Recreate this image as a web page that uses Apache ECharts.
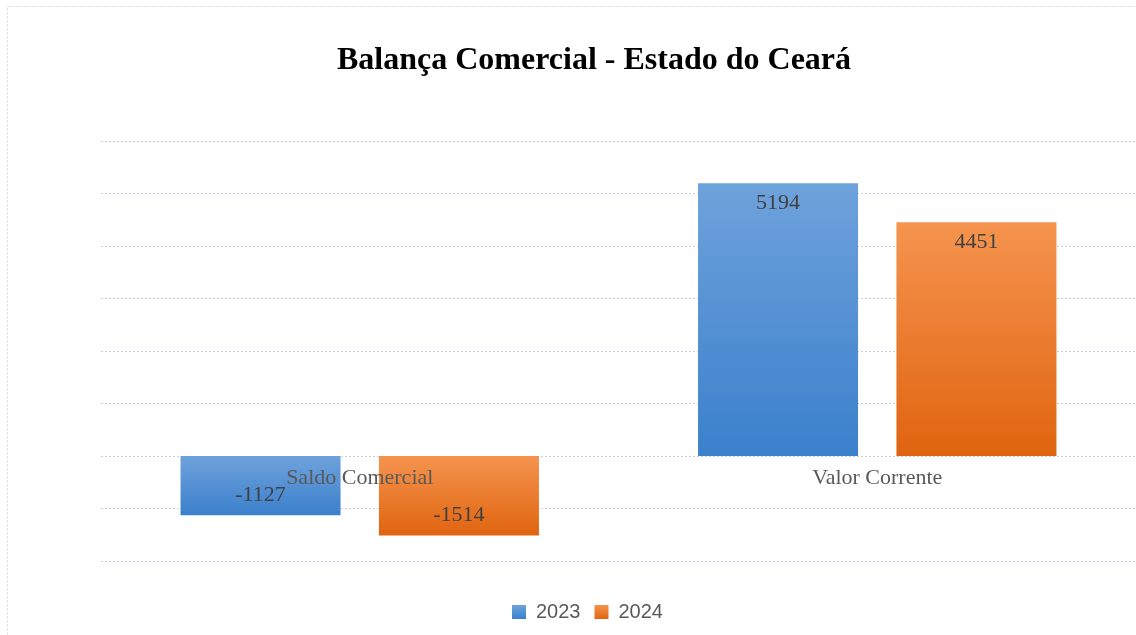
<!DOCTYPE html>
<html>
<head>
<meta charset="utf-8">
<script src="https://cdn.jsdelivr.net/npm/echarts@6/dist/echarts.min.js"></script>
<style>
  html, body { margin: 0; padding: 0; background: #fff; }
  #chart { width: 1136px; height: 635px; }
</style>
</head>
<body>
<div id="chart"></div>
<script>
var categories = ['Saldo Comercial', 'Valor Corrente']
var values2023 = [-1127, 5194]
var values2024 = [-1514, 4451]
var seriesNames = ['2023', '2024']

function grad(top, bottom) {
  return new echarts.graphic.LinearGradient(0, 0, 0, 1, [
    { offset: 0, color: top },
    { offset: 1, color: bottom }
  ])
}

// negative bars put the label at the bottom end
function toData(vals) {
  return vals.map(function (v) {
    return {
      value: v,
      label: { position: v < 0 ? 'insideBottom' : 'insideTop' }
    }
  })
}

var labelStyle = {
  show: true,
  distance: 9,
  fontFamily: 'Liberation Serif',
  fontSize: 22,
  color: '#404040'
}

var chart = echarts.init(document.getElementById('chart'))
chart.setOption({
  animation: false,
  title: {
    text: 'Balança Comercial - Estado do Ceará',
    left: 332,
    top: 40,
    textStyle: {
      fontFamily: 'Liberation Serif',
      fontWeight: 'bold',
      fontSize: 32,
      color: '#000'
    }
  },
  graphic: [{
    type: 'rect',
    shape: { x: 7.5, y: 6.5, width: 1140, height: 640 },
    style: { fill: 'none', stroke: '#cfdada', lineWidth: 1, lineDash: [2, 2] },
    silent: true
  }],
  legend: {
    bottom: 8,
    left: 507,
    itemWidth: 14,
    itemHeight: 14,
    itemGap: 14,
    icon: 'rect',
    textStyle: { fontFamily: 'Liberation Sans', fontSize: 20, color: '#595959', padding: [0, 0, 0, 5] },
    data: seriesNames
  },
  grid: {
    left: 101,
    right: -3,
    top: 141,
    bottom: 74
  },
  xAxis: {
    type: 'category',
    data: categories,
    offset: -105,
    z: 10,
    axisLine: { show: false, onZero: false },
    axisTick: { show: false },
    axisLabel: {
      fontFamily: 'Liberation Serif',
      fontSize: 22,
      color: '#595959',
      margin: 11
    }
  },
  yAxis: {
    type: 'value',
    min: -2000,
    max: 6000,
    interval: 1000,
    axisLabel: { show: false },
    axisLine: { show: false },
    axisTick: { show: false },
    splitLine: { lineStyle: { color: '#c8cde0', type: [2, 2] } }
  },
  series: [
    {
      name: seriesNames[0],
      type: 'bar',
      barWidth: 160,
      barGap: '24%',
      data: toData(values2023),
      itemStyle: { color: grad('#6ea2db', '#3b80cc') },
      label: labelStyle
    },
    {
      name: seriesNames[1],
      type: 'bar',
      barWidth: 160,
      data: toData(values2024),
      itemStyle: { color: grad('#f5944f', '#e0640f') },
      label: labelStyle
    }
  ]
})
</script>
</body>
</html>
